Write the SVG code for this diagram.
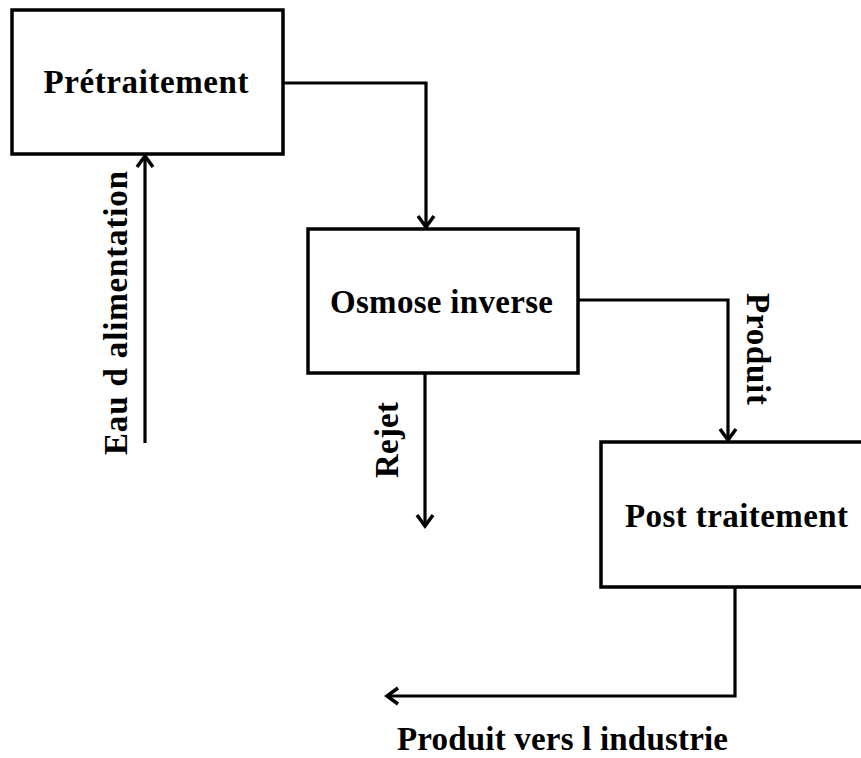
<svg xmlns="http://www.w3.org/2000/svg" width="861" height="758" viewBox="0 0 861 758">
<style>
.box{fill:#fff;stroke:#000;stroke-width:3.5}
.lbl{font-family:"Liberation Serif","Times New Roman",serif;font-weight:bold;font-size:33px;fill:#000}
.wire{fill:none;stroke:#000;stroke-width:3.2}
</style>
<defs>
<marker id="arr" markerUnits="userSpaceOnUse" orient="auto" refX="0" refY="0" markerWidth="30" markerHeight="30" viewBox="-15 -15 30 30" overflow="visible">
<path d="M-11,-8 L0,0 L-11,8" fill="none" stroke="#000" stroke-width="3.5"/>
</marker>
</defs>
<rect width="861" height="758" fill="#fff"/>
<g id="connectors">
<polyline class="wire" points="283,83 426,83 426,227" marker-end="url(#arr)"/>
<polyline class="wire" points="578,300 728,300 728,440" marker-end="url(#arr)"/>
<polyline class="wire" points="425,373 425,526" marker-end="url(#arr)"/>
<polyline class="wire" points="145,443 145,156" marker-end="url(#arr)"/>
<polyline class="wire" points="735,587 735,696 387,696" marker-end="url(#arr)"/>
</g>
<g id="pretraitement">
<rect class="box" x="12" y="10" width="271" height="144"/>
<text class="lbl" x="146" y="93" text-anchor="middle" textLength="205">Prétraitement</text>
</g>
<g id="osmose">
<rect class="box" x="308" y="229" width="270" height="144"/>
<text class="lbl" x="441.5" y="313" text-anchor="middle" textLength="223">Osmose inverse</text>
</g>
<g id="post">
<rect class="box" x="601" y="442" width="300" height="145"/>
<text class="lbl" x="736.5" y="527" text-anchor="middle" textLength="223">Post traitement</text>
</g>
<g id="labels">
<text class="lbl" transform="translate(127,313) rotate(-90)" text-anchor="middle" textLength="284">Eau d alimentation</text>
<text class="lbl" transform="translate(398,440) rotate(-90)" text-anchor="middle" textLength="76">Rejet</text>
<text class="lbl" transform="translate(747,349) rotate(90)" text-anchor="middle" textLength="112">Produit</text>
<text class="lbl" x="562.5" y="750" text-anchor="middle" textLength="331">Produit vers l industrie</text>
</g>
</svg>
